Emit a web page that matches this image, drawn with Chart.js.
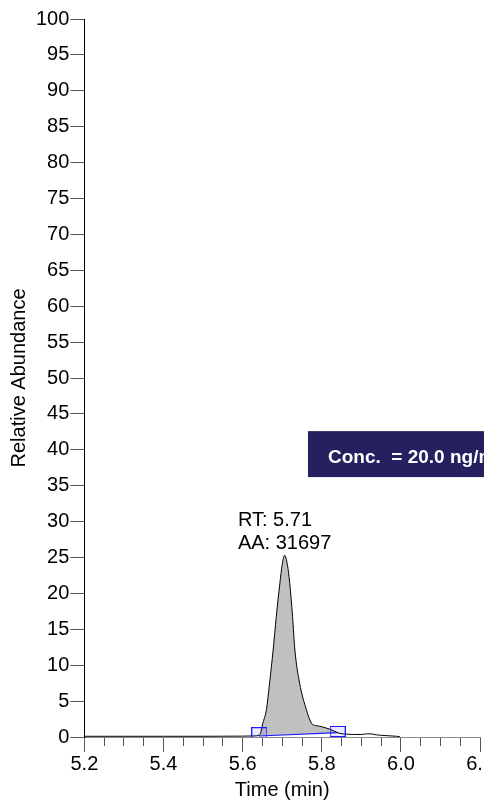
<!DOCTYPE html>
<html>
<head>
<meta charset="utf-8">
<script src="https://cdn.jsdelivr.net/npm/chart.js@4/dist/chart.umd.min.js"></script>
<style>
  html, body { margin: 0; padding: 0; background: #fff; overflow: hidden; }
  #wrap { width: 496px; height: 802px; position: relative; }
</style>
</head>
<body>
<div id="wrap"><canvas id="chromatogram"></canvas></div>
<script>
// chromatogram trace (time in min, relative abundance in %)
const traceTime = [5.20, 5.30, 5.40, 5.50, 5.60, 5.63, 5.641, 5.645, 5.651, 5.660, 5.668, 5.677,
  5.685, 5.694, 5.700, 5.706, 5.713, 5.719, 5.726, 5.732, 5.744, 5.761, 5.774, 5.784,
  5.795, 5.808, 5.820, 5.832, 5.846, 5.862, 5.880, 5.900, 5.915, 5.922, 5.938, 5.960,
  5.975, 5.989, 5.997];
const traceAbund = [0.1, 0.1, 0.1, 0.1, 0.12, 0.15, 0.25, 0.5, 1.9, 3.8, 7.5, 12.1,
  16.8, 21.4, 24.0, 25.3, 24.0, 21.4, 16.8, 12.1, 7.5, 3.8, 1.9, 1.6,
  1.5, 1.3, 1.1, 0.8, 0.5, 0.4, 0.35, 0.35, 0.45, 0.45, 0.3, 0.2,
  0.15, 0.1, 0.05];

// integration baseline (start, end)
const baseTime = [5.641, 5.841];
const baseAbund = [0.14, 0.6];
// integration markers
const markTime = [5.642, 5.840];
const markAbund = [0.6, 0.77];

const peakLabel = ["RT: 5.71", "AA: 31697"];
const concText = "Conc.  = 20.0 ng/mL";

const xTicksMajor = 0.2;
const fontFam = '"Liberation Sans", Arial, Helvetica, sans-serif';
Chart.defaults.font.family = fontFam;
Chart.defaults.color = "#000";

const tracePts = traceTime.map((t, i) => ({ x: t, y: traceAbund[i] }));
const areaPts = tracePts.filter(p => p.x >= baseTime[0] && p.x <= baseTime[1]);

const markCanvas = document.createElement("canvas");
markCanvas.width = 16; markCanvas.height = 11;
{
  const c = markCanvas.getContext("2d");
  c.fillStyle = "rgba(0,0,255,0.08)";
  c.fillRect(0, 0, 16, 11);
  c.strokeStyle = "#1a1aff";
  c.lineWidth = 1;
  c.strokeRect(0.5, 0.5, 15, 10);
}

const isMajor = v => Math.abs(v / xTicksMajor - Math.round(v / xTicksMajor)) < 1e-6;

const annotations = {
  id: "annotations",
  afterDatasetsDraw(chart) {
    const { ctx, scales: { x, y } } = chart;
    let iMax = 0;
    traceAbund.forEach((v, i) => { if (v > traceAbund[iMax]) iMax = i; });
    const px = x.getPixelForValue(traceTime[iMax]);
    const py = y.getPixelForValue(traceAbund[iMax]);
    ctx.save();
    ctx.font = "20px " + fontFam;
    ctx.fillStyle = "#000";
    ctx.textBaseline = "alphabetic";
    const w = Math.max(...peakLabel.map(s => ctx.measureText(s).width));
    const left = px - w / 2;
    ctx.fillText(peakLabel[1], left, py - 6);
    ctx.fillText(peakLabel[0], left, py - 29);

    // concentration box
    const bx = x.getPixelForValue(5.765);
    const by1 = y.getPixelForValue(42.6);
    const by2 = y.getPixelForValue(36.2);
    ctx.fillStyle = "#252060";
    ctx.fillRect(bx, by1, chart.width - bx, by2 - by1);
    ctx.fillStyle = "#fff";
    ctx.font = "bold 19px " + fontFam;
    ctx.fillText(concText, bx + 20, by2 - 14);
    ctx.restore();
  }
};

new Chart(document.getElementById("chromatogram"), {
  type: "scatter",
  data: {
    datasets: [
      {
        label: "trace",
        data: tracePts,
        showLine: true,
        borderColor: "#000",
        borderWidth: 1,
        pointRadius: 0,
        cubicInterpolationMode: "monotone",
        fill: false,
        order: 1
      },
      {
        label: "area",
        data: areaPts,
        showLine: true,
        borderWidth: 0,
        borderColor: "rgba(0,0,0,0)",
        backgroundColor: "#c0c0c0",
        pointRadius: 0,
        cubicInterpolationMode: "monotone",
        fill: 2,
        order: 3
      },
      {
        label: "baseline",
        data: baseTime.map((t, i) => ({ x: t, y: baseAbund[i] })),
        showLine: true,
        borderColor: "#1a1aff",
        borderWidth: 1.2,
        pointRadius: 0,
        fill: false,
        order: 2
      },
      {
        label: "markers",
        data: markTime.map((t, i) => ({ x: t, y: markAbund[i] })),
        pointStyle: markCanvas,
        showLine: false,
        order: 0
      }
    ]
  },
  options: {
    responsive: true,
    maintainAspectRatio: false,
    animation: false,
    events: [],
    layout: { padding: { top: 19, right: 2, left: 7, bottom: 0 } },
    plugins: { legend: { display: false }, tooltip: { enabled: false } },
    scales: {
      x: {
        type: "linear",
        min: 5.2,
        max: 6.2,
        border: { color: "#888", width: 1 },
        grid: {
          drawOnChartArea: false,
          tickLength: 15,
          tickColor: "#555",
          tickBorderDash: c => (c.tick && isMajor(c.tick.value)) ? [] : [8, 40]
        },
        ticks: {
          stepSize: 0.05,
          autoSkip: false,
          maxRotation: 0,
          padding: 2,
          font: { size: 20, lineHeight: 1 },
          callback: v => isMajor(v) ? v.toFixed(1) : ""
        },
        title: { display: true, text: "Time (min)", font: { size: 20, lineHeight: 1 }, padding: { top: 4, bottom: 2 } }
      },
      y: {
        min: 0,
        max: 100,
        border: { color: "#000", width: 1 },
        grid: { drawOnChartArea: false, tickLength: 14, tickColor: "#555" },
        ticks: { stepSize: 5, padding: 1, font: { size: 20 } },
        title: { display: true, text: "Relative Abundance", font: { size: 20 }, padding: { top: 0, bottom: 4 } }
      }
    }
  },
  plugins: [annotations]
});
</script>
</body>
</html>
